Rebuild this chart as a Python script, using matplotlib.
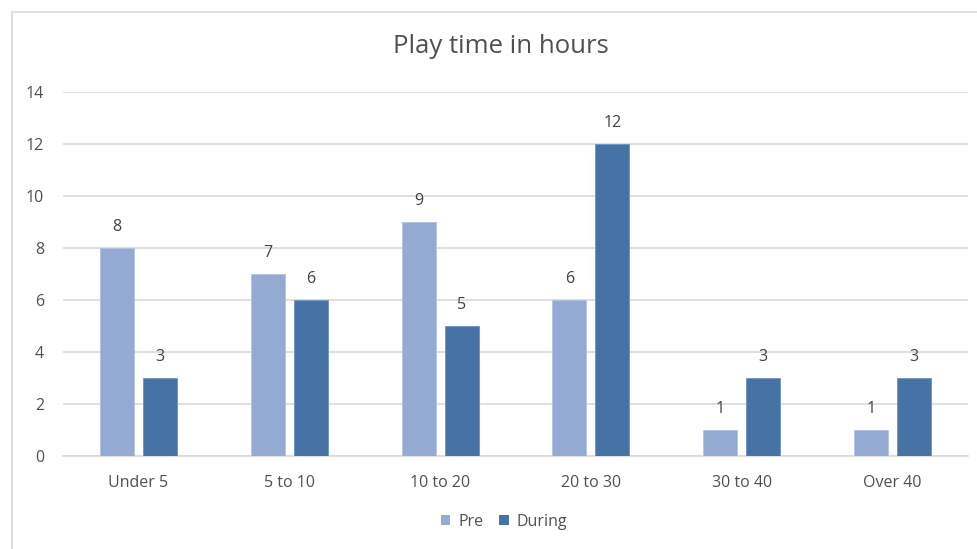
import matplotlib
matplotlib.use("Agg")
import matplotlib.pyplot as plt
from matplotlib.patches import Rectangle, Patch
import numpy as np

categories = ["Under 5", "5 to 10", "10 to 20", "20 to 30", "30 to 40", "Over 40"]
pre = [8, 7, 9, 6, 1, 1]
during = [3, 6, 5, 12, 3, 3]
y_ticks = [0, 2, 4, 6, 8, 10, 12, 14]

W, H = 978, 549
fig = plt.figure(figsize=(W / 100, H / 100), dpi=100)
plt.rcParams["font.family"] = ["Open Sans", "DejaVu Sans"]
text_color = "#505050"
grid_color = "#D9D9D9"
pre_color = "#95AAD2"
during_color = "#4672A6"

# chart frame
fig.patches.append(Rectangle((12 / W, -0.1), 1.2, 1 - 12 / H + 0.1,
                             transform=fig.transFigure, fill=False,
                             edgecolor=grid_color, linewidth=1.2))

left, right = 63, 968
top, bottom = 92, 456
ax = fig.add_axes([left / W, 1 - bottom / H, (right - left) / W, (bottom - top) / H])

x = np.arange(len(categories))
bw = 0.225
gap = 0.06
off = (bw + gap) / 2
b1 = ax.bar(x - off, pre, bw, color=pre_color, edgecolor="#B3C3E0", linewidth=0.6, zorder=3, label="Pre")
b2 = ax.bar(x + off, during, bw, color=during_color, edgecolor="#6F92C0", linewidth=0.6, zorder=3, label="During")

for bars, vals in ((b1, pre), (b2, during)):
    for r, v in zip(bars, vals):
        ax.annotate(f"{v}", (r.get_x() + r.get_width() / 2, v), xytext=(0, 15),
                    textcoords="offset points", ha="center", va="center",
                    fontsize=11.5, color="#404040")

ax.set_xlim(-0.5, len(categories) - 0.5)
ax.set_ylim(0, 14)
ax.set_yticks(y_ticks)
ax.set_xticks(x)
ax.set_xticklabels(categories)
ax.yaxis.grid(True, color=grid_color, linewidth=1.2, zorder=0)
ax.set_axisbelow(True)
for s in ("top", "right", "left"):
    ax.spines[s].set_visible(False)
ax.spines["bottom"].set_color(grid_color)
ax.spines["bottom"].set_linewidth(1.2)
ax.tick_params(axis="both", length=0, labelsize=11.5, colors=text_color)
ax.tick_params(axis="y", pad=13.5)
ax.tick_params(axis="x", pad=14)

fig.text(501 / W, 1 - 47 / H, "Play time in hours", ha="center", va="center",
         fontsize=18.5, color=text_color)

handles = [Patch(facecolor=pre_color, label="Pre"), Patch(facecolor=during_color, label="During")]
fig.legend(handles=handles, loc="center", bbox_to_anchor=(504 / W, 1 - 522 / H), ncol=2,
           frameon=False, fontsize=11.5, labelcolor=text_color, handlelength=0.6,
           handleheight=0.6, handletextpad=0.5, columnspacing=1.0)

fig.savefig("out.png", dpi=100)
